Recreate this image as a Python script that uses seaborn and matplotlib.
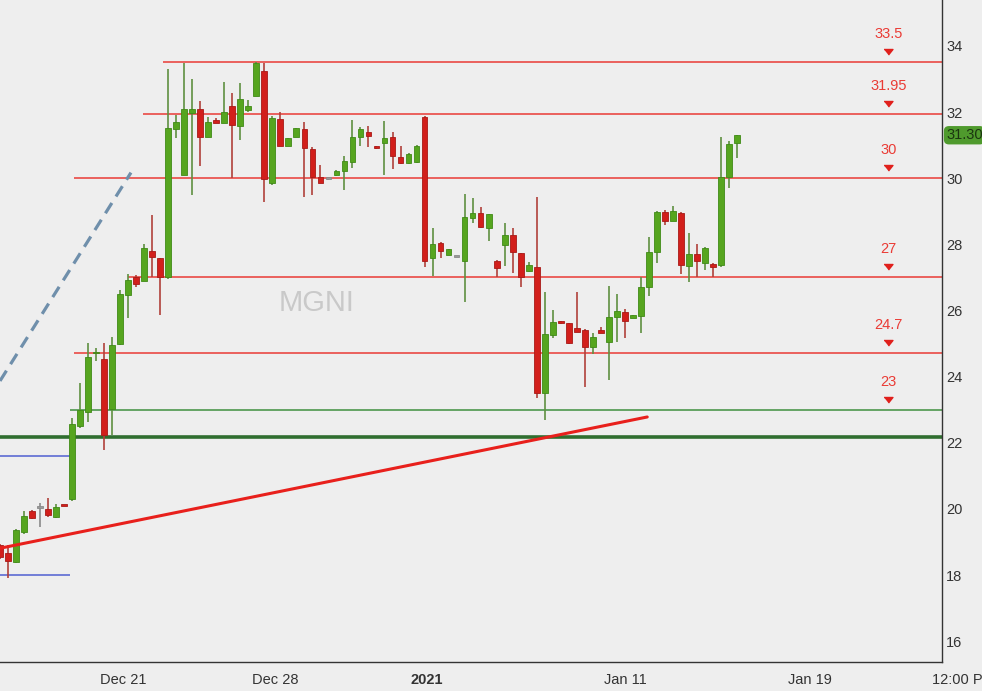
import matplotlib
matplotlib.use("Agg")
import matplotlib.pyplot as plt
import matplotlib.transforms as mtransforms
import seaborn as sns
import numpy as np

# candle data (oldest -> newest)
opens = [18.91, 18.66, 18.39, 19.31, 19.93, 20.03, 19.99, 19.76, 20.11, 20.30,
         22.51, 22.92, 24.70, 24.52, 23.01, 24.98, 26.47, 27.00, 26.90, 27.81,
         27.58, 27.00, 31.48, 30.10, 31.98, 32.09, 31.24, 31.76, 31.68, 32.19,
         31.58, 32.06, 32.49, 33.25, 29.87, 31.79, 30.98, 31.24, 31.48, 30.88,
         30.05, 29.98, 30.10, 30.22, 30.50, 31.24, 31.41, 30.95, 31.07, 31.26,
         30.65, 30.45, 30.48, 31.86, 27.58, 28.05, 27.68, 27.63, 27.50, 28.79,
         28.94, 28.49, 27.51, 27.98, 28.27, 27.73, 27.20, 27.32, 23.49, 25.26,
         25.66, 25.61, 25.48, 25.41, 24.89, 25.41, 25.06, 25.79, 25.96, 25.77,
         25.83, 26.70, 27.78, 28.99, 28.72, 28.94, 27.35, 27.71, 27.43, 27.41,
         27.38, 30.03, 31.06]
highs = [18.95, 18.91, 19.40, 19.93, 19.97, 20.19, 20.34, 20.14, 20.12, 22.75,
         23.82, 25.01, 24.87, 25.01, 25.21, 26.62, 27.09, 27.06, 28.01, 28.89,
         27.58, 33.30, 31.91, 33.49, 32.99, 32.35, 31.85, 31.82, 32.92, 32.59,
         32.89, 32.37, 33.50, 33.49, 31.88, 32.00, 31.23, 31.51, 31.71, 30.95,
         30.40, 30.00, 30.25, 30.68, 31.76, 31.55, 31.58, 30.96, 31.73, 31.41,
         30.98, 30.75, 31.00, 31.88, 28.49, 28.07, 27.86, 27.64, 29.51, 29.39,
         29.14, 28.92, 27.52, 28.66, 28.50, 27.75, 27.46, 29.44, 26.57, 26.00,
         25.67, 25.62, 26.57, 25.44, 25.32, 25.51, 26.74, 26.50, 26.04, 25.87,
         27.00, 28.21, 29.00, 29.04, 29.16, 28.98, 28.35, 28.01, 27.92, 27.44,
         31.24, 31.14, 31.30]
lows = [18.50, 17.90, 18.35, 19.24, 19.68, 19.46, 19.76, 19.72, 20.08, 20.25,
        22.44, 22.64, 24.48, 21.78, 22.23, 24.95, 25.76, 26.72, 26.88, 27.02,
        25.86, 26.94, 31.21, 30.10, 29.49, 30.37, 31.24, 31.66, 31.66, 30.00,
        31.16, 32.00, 32.49, 29.29, 29.80, 30.98, 30.98, 31.24, 29.42, 29.49,
        29.85, 29.95, 30.08, 29.64, 30.30, 30.98, 30.94, 30.89, 30.10, 30.28,
        30.42, 30.43, 30.45, 27.31, 27.04, 27.58, 27.67, 27.62, 26.25, 28.64,
        28.49, 28.10, 27.02, 27.35, 27.12, 26.70, 27.15, 23.34, 22.69, 25.16,
        25.60, 25.00, 25.34, 23.68, 24.68, 25.31, 23.90, 25.06, 25.16, 25.76,
        25.33, 26.44, 27.43, 28.58, 28.71, 27.10, 26.87, 27.02, 27.22, 27.02,
        27.32, 29.70, 30.60]
closes = [18.54, 18.42, 19.36, 19.79, 19.71, 20.02, 19.81, 20.06, 20.09, 22.56,
          22.99, 24.60, 24.72, 22.23, 24.96, 26.49, 26.92, 26.80, 27.88, 27.61,
          27.00, 31.51, 31.71, 32.09, 32.09, 31.24, 31.71, 31.66, 32.01, 31.61,
          32.39, 32.19, 33.49, 29.97, 31.83, 30.98, 31.23, 31.51, 30.91, 30.03,
          29.87, 29.97, 30.23, 30.53, 31.26, 31.48, 31.28, 30.90, 31.23, 30.67,
          30.45, 30.72, 30.98, 27.50, 28.01, 27.80, 27.85, 27.63, 28.84, 28.94,
          28.53, 28.91, 27.28, 28.28, 27.76, 27.02, 27.38, 23.49, 25.28, 25.66,
          25.61, 25.01, 25.36, 24.89, 25.21, 25.33, 25.81, 25.99, 25.69, 25.86,
          26.72, 27.78, 28.99, 28.72, 29.02, 27.38, 27.71, 27.50, 27.88, 27.32,
          30.03, 31.04, 31.30]

# annotated price levels
red_levels = [33.5, 31.95, 30, 27, 24.7]
green_level = 23
support_level = 22.17
blue_levels = [21.6, 18.0]
trend_red = [18.81, 22.78]
trend_dash = [23.87, 30.17]
last_price = 31.30

# x axis labels (candle index positions)
tick_pos = [12.5, 31.4, 51.3, 75.4, 98.4, 116.4]
tick_labels = ["Dec 21", "Dec 28", "2021", "Jan 11", "Jan 19", "12:00 PM"]

BG = "#eeeeee"
UP, UP_EDGE = "#56a51f", "#3f8a16"
DN, DN_EDGE = "#d21f1b", "#a81a17"
LVL_RED = "#ea3b35"

sns.set_style("white", {"axes.facecolor": BG, "figure.facecolor": BG})
plt.rcParams["font.family"] = ["Liberation Sans", "DejaVu Sans"]

fig = plt.figure(figsize=(9.82, 6.91), dpi=100)
fig.patch.set_facecolor(BG)
ax = fig.add_axes([0, 1 - 662 / 691, 942 / 982, 662 / 691])
ax.set_facecolor(BG)

o = np.array(opens); h = np.array(highs); l = np.array(lows); c = np.array(closes)
idx = np.arange(len(o))
up = c >= o
doji = np.abs(c - o) < 0.015
body_col = np.where(doji, "#9a9a9a", np.where(up, UP, DN))
edge_col = np.where(doji, "#8a8a8a", np.where(up, UP_EDGE, DN_EDGE))
wick_col = np.where(doji, "#8a8a8a", np.where(up, "#5f9040", "#b0403a"))

# horizontal levels
red_starts = [20.3, 17.9, 9.2, 16.0, 9.3]
xmax = 117.6
for lv, xs in zip(red_levels, red_starts):
    ax.hlines(lv, xs, xmax, color=LVL_RED, lw=1.1, zorder=1)
ax.hlines(green_level, 8.8, xmax, color="#3f8f3f", lw=1.1, zorder=1)
ax.hlines(support_level, 0, xmax, color="#2f6e2f", lw=2.6, zorder=1)
for lv in blue_levels:
    ax.hlines(lv, 0, 8.7, color="#4f5fd0", lw=1.1, zorder=1)

# trend lines
sns.lineplot(x=[0, 80.8], y=trend_red, ax=ax, color="#e8201c", lw=2.2, zorder=4)
dl = ax.plot([0, 16.35], trend_dash, color="#6f8fab", lw=2.3, zorder=1)[0]
dl.set_dashes((3.8, 2.4))

# candles
ax.vlines(idx, l, h, colors=wick_col, lw=1.2, zorder=2)
bottoms = np.minimum(o, c)
heights = np.maximum(np.abs(c - o), 0.06)
ax.bar(idx, heights, bottom=bottoms, width=0.72, color=body_col,
       edgecolor=edge_col, lw=0.6, zorder=3)

# watermark
ax.text(39.5, 26.23, "MGNI", fontsize=21, color="#c9c9c9", ha="center",
        va="center", zorder=0)

# level labels with little down arrows
lab_x = 110.9
tri_tr = mtransforms.offset_copy(ax.transData, fig=fig, x=0, y=13, units="dots")
for lv in red_levels + [green_level]:
    ax.annotate(f"{lv:g}", xy=(lab_x, lv), xytext=(0, 28),
                textcoords="offset pixels", ha="center", va="center",
                fontsize=10.5, color=LVL_RED)
    ax.plot([lab_x], [lv], marker=[(-4, 0), (4, 0), (0, -5)], ms=8,
            color="#e0201c", transform=tri_tr, zorder=5)

# last price tag
ax.annotate(f"{last_price:.2f}", xy=(1, last_price),
            xycoords=("axes fraction", "data"), xytext=(4, 0),
            textcoords="offset pixels", ha="left", va="center", fontsize=10.5,
            color="#1b3510", annotation_clip=False,
            bbox=dict(boxstyle="round,pad=0.15,rounding_size=0.35",
                      fc="#4f9a2d", ec="none"))

ax.set_xlim(0, xmax)
ax.set_ylim(15.37, 35.39)

ax.yaxis.tick_right()
ax.set_yticks(range(16, 35, 2))
ax.tick_params(axis="y", length=0, pad=3, labelsize=10.5, labelcolor="#333333")
ax.set_xticks(tick_pos)
ax.set_xticklabels(tick_labels)
ax.tick_params(axis="x", length=5, width=1, direction="out", pad=3,
               labelsize=10.5, labelcolor="#333333", color="#333333")
for t in ax.get_xticklabels():
    t.set_ha("left")
    if t.get_text() == "2021":
        t.set_fontweight("bold")

for side in ["left", "top"]:
    ax.spines[side].set_visible(False)
for side in ["right", "bottom"]:
    ax.spines[side].set_color("#333333")
    ax.spines[side].set_linewidth(1)
ax.grid(False)

fig.savefig("out.png", dpi=100, facecolor=BG)
